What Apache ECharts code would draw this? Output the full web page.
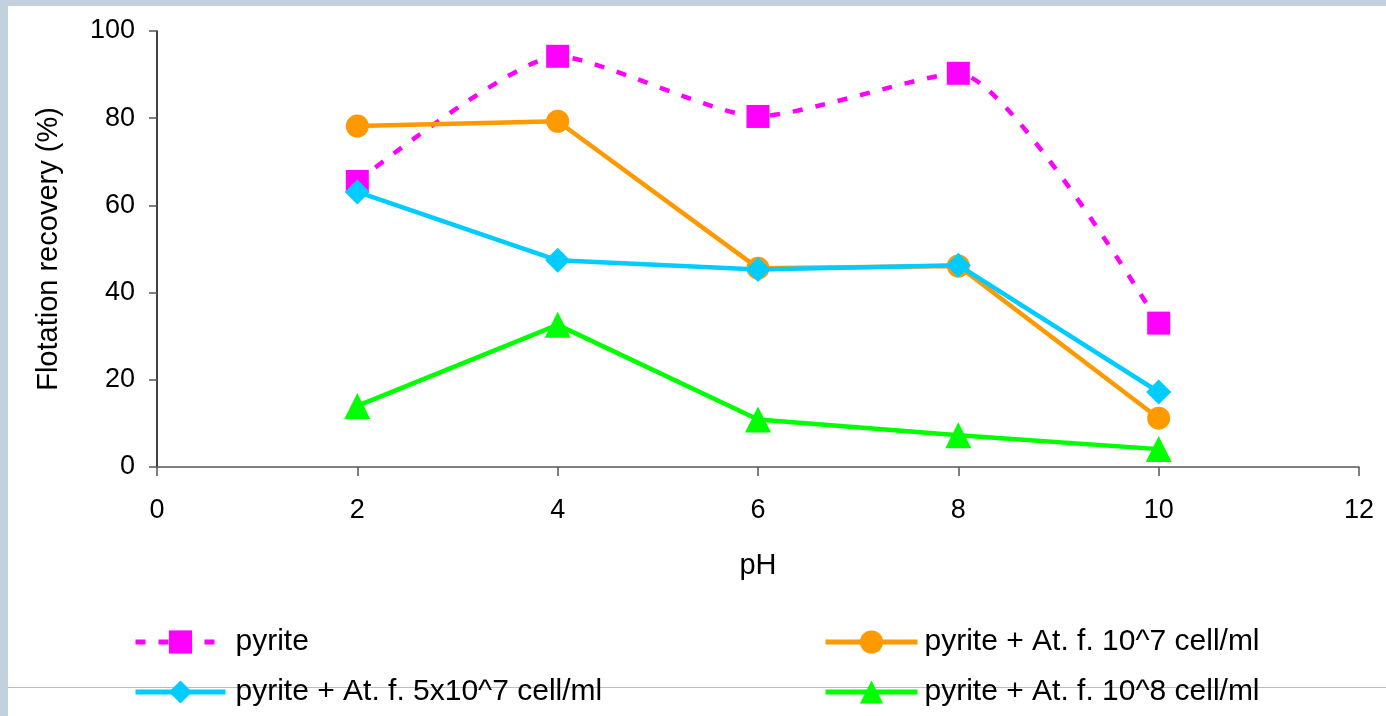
<!DOCTYPE html>
<html>
<head>
<meta charset="utf-8">
<title>Flotation recovery vs pH</title>
<script src="https://cdn.jsdelivr.net/npm/echarts@6/dist/echarts.min.js"></script>
<style>
  html, body { margin: 0; padding: 0; background: #ffffff; }
  #chart { width: 1386px; height: 716px; }
</style>
</head>
<body>
<div id="chart"></div>
<script>
// pH values at which recovery was measured
const phValues = [2, 4, 6, 8, 10];

// Flotation recovery (%) for each condition
const pyrite        = [65.5, 94.2, 80.4, 90.3, 33.0];
const atf1e7        = [78.2, 79.3, 45.6, 46.1, 11.2];
const atf5e7        = [63.1, 47.4, 45.3, 46.3, 17.2];
const atf1e8        = [14.0, 32.6, 10.9, 7.3, 4.1];

const seriesNames = [
  'pyrite',
  'pyrite + At. f. 10^7 cell/ml',
  'pyrite + At. f. 5x10^7 cell/ml',
  'pyrite + At. f. 10^8 cell/ml'
];

const xTicks = [0, 2, 4, 6, 8, 10, 12];
const yTicks = [0, 20, 40, 60, 80, 100];

const font = '"Liberation Sans", Arial, Helvetica, sans-serif';

function pairs(values) {
  return phValues.map((x, i) => [x, values[i]]);
}

const chart = echarts.init(document.getElementById('chart'), null, { renderer: 'canvas' });

const legendBase = {
  orient: 'vertical',
  top: 627,
  padding: 0,
  itemHeight: 29,
  itemGap: 20,
  lineStyle: { width: 5 },
  textStyle: { fontFamily: font, fontSize: 30, color: '#000' }
};

const option = {
  backgroundColor: '#c3d1df',
  animation: false,
  graphic: [
    // white slide area inside the bluish frame
    { type: 'rect', left: 8, top: 6, shape: { width: 1378, height: 710 }, style: { fill: '#ffffff' }, z: -10 },
    // thin divider line across the lower part
    { type: 'rect', left: 8, top: 687, shape: { width: 1378, height: 1 }, style: { fill: '#adbfd0' }, z: -5 }
  ],
  grid: { left: 157, right: 27, top: 31, bottom: 249 },
  xAxis: {
    type: 'value',
    min: xTicks[0],
    max: xTicks[xTicks.length - 1],
    interval: 2,
    name: 'pH',
    nameLocation: 'middle',
    nameGap: 84,
    nameTextStyle: { fontFamily: font, fontSize: 29, color: '#000' },
    axisLine: { show: true, onZero: false, lineStyle: { color: '#555', width: 1.5 } },
    axisTick: { show: true, inside: false, length: 9, lineStyle: { color: '#555', width: 1.5 } },
    axisLabel: { fontFamily: font, fontSize: 27, color: '#000', margin: 30 },
    splitLine: { show: false }
  },
  yAxis: {
    type: 'value',
    min: yTicks[0],
    max: yTicks[yTicks.length - 1],
    interval: 20,
    name: 'Flotation recovery (%)',
    nameLocation: 'middle',
    nameRotate: 90,
    nameGap: 94,
    nameTextStyle: { fontFamily: font, fontSize: 29, color: '#000' },
    axisLine: { show: true, lineStyle: { color: '#000', width: 1.5 } },
    axisTick: { show: true, inside: false, length: 8, lineStyle: { color: '#555', width: 1.5 } },
    axisLabel: { fontFamily: font, fontSize: 27, color: '#000', margin: 22 },
    splitLine: { show: false }
  },
  legend: [
    Object.assign({}, legendBase, {
      left: 133,
      itemWidth: 90,
      textStyle: Object.assign({}, legendBase.textStyle, { padding: [0, 0, 0, 5] }),
      data: [seriesNames[0], seriesNames[2]]
    }),
    Object.assign({}, legendBase, {
      left: 823,
      itemWidth: 92,
      textStyle: Object.assign({}, legendBase.textStyle, { padding: [0, 0, 0, 2] }),
      data: [seriesNames[1], seriesNames[3]]
    })
  ],
  series: [
    {
      name: seriesNames[0],
      type: 'line',
      data: pairs(pyrite),
      smooth: 0.2,
      symbol: 'rect',
      symbolSize: 23,
      color: '#ff00ff',
      lineStyle: { color: '#ff00ff', width: 4.5, type: [10, 13] },
      itemStyle: { color: '#ff00ff' },
      z: 2
    },
    {
      name: seriesNames[1],
      type: 'line',
      data: pairs(atf1e7),
      symbol: 'circle',
      symbolSize: 23,
      color: '#ff9900',
      lineStyle: { color: '#ff9900', width: 4.5 },
      itemStyle: { color: '#ff9900' },
      z: 3
    },
    {
      name: seriesNames[2],
      type: 'line',
      data: pairs(atf5e7),
      symbol: 'diamond',
      symbolSize: 25,
      color: '#00ccff',
      lineStyle: { color: '#00ccff', width: 4.5 },
      itemStyle: { color: '#00ccff' },
      z: 4
    },
    {
      name: seriesNames[3],
      type: 'line',
      data: pairs(atf1e8),
      symbol: 'triangle',
      symbolSize: 26,
      color: '#00ff00',
      lineStyle: { color: '#00ff00', width: 4.5 },
      itemStyle: { color: '#00ff00' },
      z: 5
    }
  ]
};

chart.setOption(option);
</script>
</body>
</html>
